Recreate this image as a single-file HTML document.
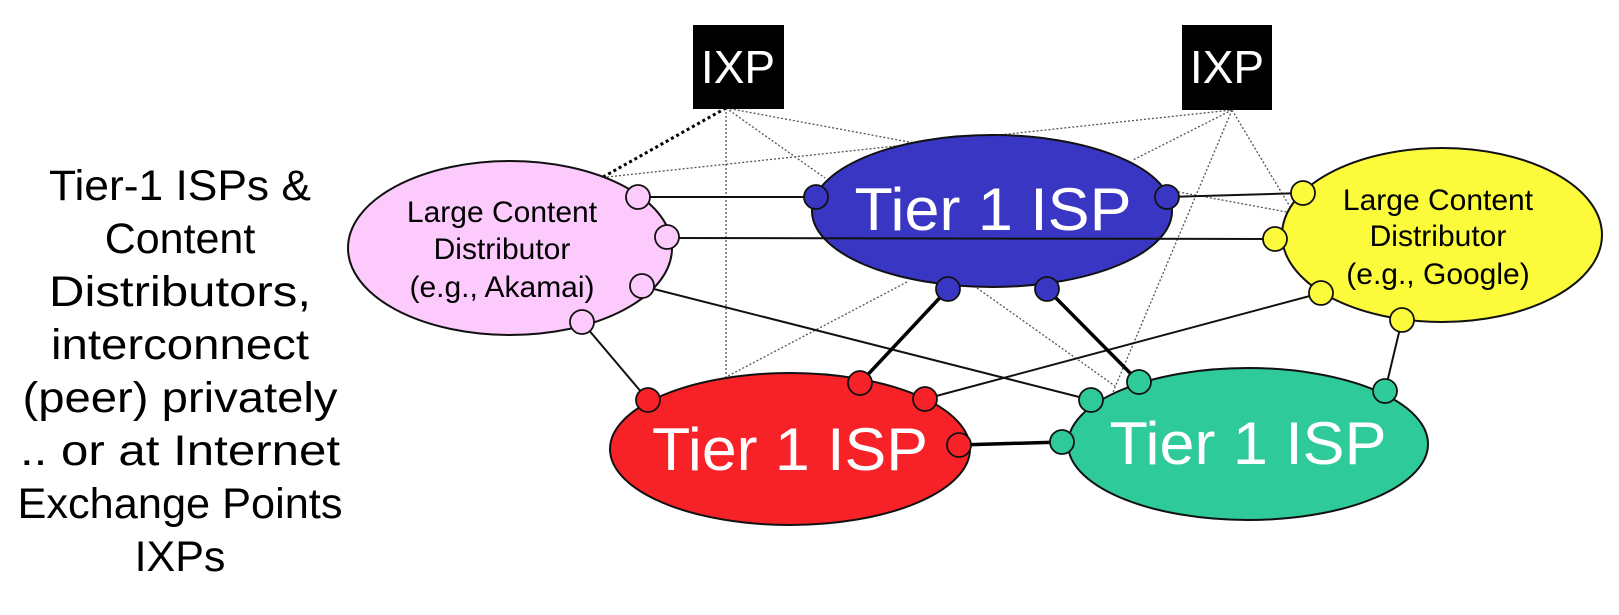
<!DOCTYPE html>
<html><head><meta charset="utf-8"><style>
html,body{margin:0;padding:0;background:#fff;}
svg{display:block;}
text{font-family:"Liberation Sans",sans-serif;}
</style></head><body>
<svg width="1619" height="615" viewBox="0 0 1619 615" xmlns="http://www.w3.org/2000/svg">
<g font-size="43" fill="#000" text-anchor="middle">
<text x="180" y="200" textLength="262" lengthAdjust="spacingAndGlyphs">Tier-1 ISPs &amp;</text>
<text x="180" y="253">Content</text>
<text x="180" y="306" textLength="262" lengthAdjust="spacingAndGlyphs">Distributors,</text>
<text x="180" y="359" textLength="258" lengthAdjust="spacingAndGlyphs">interconnect</text>
<text x="180" y="412" textLength="315" lengthAdjust="spacingAndGlyphs">(peer) privately</text>
<text x="180" y="465" textLength="320" lengthAdjust="spacingAndGlyphs">.. or at Internet</text>
<text x="180" y="518" textLength="325" lengthAdjust="spacingAndGlyphs">Exchange Points</text>
<text x="180" y="571">IXPs</text>
</g>
<g stroke="#555" stroke-width="1.3" stroke-dasharray="2,2" fill="none">
<line x1="726" y1="108" x2="726" y2="377"/>
<line x1="726" y1="108" x2="825" y2="178"/>
<line x1="726" y1="108" x2="1292" y2="213"/>
<line x1="607" y1="177" x2="1232" y2="110"/>
<line x1="1232" y1="110" x2="1133" y2="160"/>
<line x1="1232" y1="110" x2="1113" y2="392"/>
<line x1="1232" y1="110" x2="1292" y2="210"/>
<line x1="907" y1="282" x2="728" y2="376"/>
<line x1="977" y1="288" x2="1115" y2="386"/>
</g>
<line x1="726" y1="108" x2="603" y2="177" stroke="#000" stroke-width="3" stroke-dasharray="3,3"/>
<rect x="693" y="25" width="91" height="84" fill="#000"/>
<rect x="1182" y="25" width="90" height="85" fill="#000"/>
<text x="738" y="83" font-size="46" fill="#fff" text-anchor="middle">IXP</text>
<text x="1227" y="83" font-size="46" fill="#fff" text-anchor="middle">IXP</text>
<g stroke="#111" stroke-width="2" fill="none">
<line x1="638" y1="197" x2="816" y2="197"/>
<line x1="642" y1="286" x2="1091" y2="400"/>
<line x1="582" y1="322" x2="648" y2="400"/>
<line x1="1167" y1="197" x2="1303" y2="193"/>
<line x1="1321" y1="293" x2="925" y2="399"/>
<line x1="1402" y1="320" x2="1385" y2="391"/>
</g>
<g stroke="#000" stroke-width="3.5">
<line x1="948" y1="289" x2="860" y2="383"/>
<line x1="1047" y1="289" x2="1139" y2="382"/>
<line x1="959" y1="445" x2="1062" y2="442"/>
</g>
<g stroke="#111" stroke-width="2">
<ellipse cx="510" cy="248" rx="162" ry="87" fill="#fccafc"/>
<ellipse cx="992" cy="211" rx="180" ry="76" fill="#3a36c4"/>
<ellipse cx="1442" cy="235" rx="160" ry="87" fill="#fbfb3c"/>
<ellipse cx="790" cy="449" rx="180" ry="76" fill="#f72227"/>
<ellipse cx="1248" cy="444" rx="180" ry="76" fill="#2fca99"/>
</g>
<line x1="667" y1="238" x2="1275" y2="239" stroke="#111" stroke-width="2"/>
<g font-size="30" fill="#000" text-anchor="middle">
<text x="502" y="222">Large Content</text>
<text x="502" y="259">Distributor</text>
<text x="502" y="297">(e.g., Akamai)</text>
<text x="1438" y="210">Large Content</text>
<text x="1438" y="246">Distributor</text>
<text x="1438" y="284">(e.g., Google)</text>
</g>
<g font-size="60" fill="#fff" text-anchor="middle">
<text x="993" y="230" textLength="277" lengthAdjust="spacingAndGlyphs">Tier 1 ISP</text>
<text x="790" y="470" textLength="276" lengthAdjust="spacingAndGlyphs">Tier 1 ISP</text>
<text x="1248" y="464" textLength="277" lengthAdjust="spacingAndGlyphs">Tier 1 ISP</text>
</g>
<g stroke="#111" stroke-width="1.8">
<g fill="#fccafc">
<circle cx="638" cy="197" r="12"/><circle cx="667" cy="237" r="12"/><circle cx="642" cy="286" r="12"/><circle cx="582" cy="322" r="12"/>
</g>
<g fill="#3a36c4">
<circle cx="816" cy="197" r="12"/><circle cx="1167" cy="197" r="12"/><circle cx="948" cy="289" r="12"/><circle cx="1047" cy="289" r="12"/>
</g>
<g fill="#fbfb3c">
<circle cx="1303" cy="193" r="12"/><circle cx="1275" cy="239" r="12"/><circle cx="1321" cy="293" r="12"/><circle cx="1402" cy="320" r="12"/>
</g>
<g fill="#f72227">
<circle cx="648" cy="400" r="12"/><circle cx="860" cy="383" r="12"/><circle cx="925" cy="399" r="12"/><circle cx="959" cy="445" r="12"/>
</g>
<g fill="#2fca99">
<circle cx="1091" cy="400" r="12"/><circle cx="1139" cy="382" r="12"/><circle cx="1385" cy="391" r="12"/><circle cx="1062" cy="442" r="12"/>
</g>
</g>
</svg>
</body></html>
